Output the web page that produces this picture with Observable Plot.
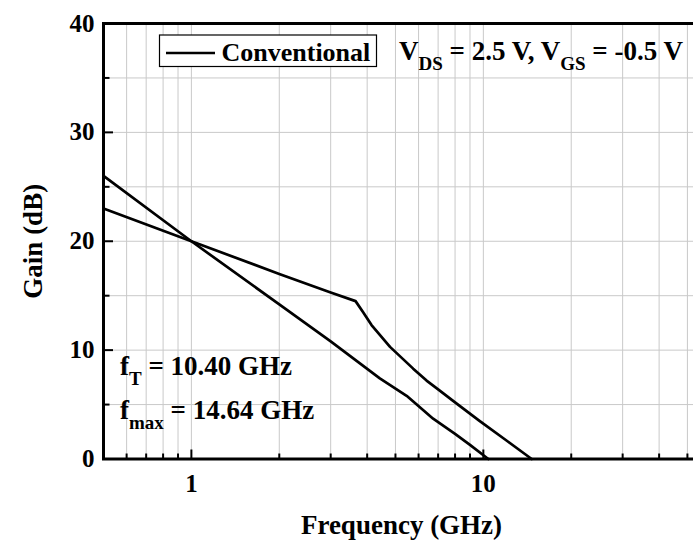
<!DOCTYPE html>
<html><head><meta charset="utf-8">
<script src="https://cdn.jsdelivr.net/npm/d3@7"></script>
<script src="https://cdn.jsdelivr.net/npm/@observablehq/plot@0.6"></script>
<style>html,body{margin:0;padding:0;overflow:hidden;background:#fff}#chart{width:693px;height:540px;overflow:hidden}</style>
</head><body><div id="chart"></div>
<script>
// Curve A (steeper, crosses 0 dB near fT)
const freqA = [0.5, 1, 2, 3, 4.42, 5.46, 6.73, 8, 9, 10.4];
const gainA = [26.0, 20.0, 14.2, 10.8, 7.4, 5.8, 3.7, 2.3, 1.3, 0];
// Curve B (kinked, crosses 0 dB near fmax)
const freqB = [0.5, 1, 2, 3, 3.65, 3.87, 4.14, 4.42, 4.79, 5.75, 6.39, 7, 8, 9.7, 12, 14.64];
const gainB = [23.0, 20.0, 17.0, 15.3, 14.5, 13.5, 12.3, 11.4, 10.3, 8.3, 7.2, 6.4, 5.2, 3.5, 1.7, 0];
const xMajor = [1, 10];
const xMinor = [0.6, 0.7, 0.8, 0.9, 2, 3, 4, 5, 6, 7, 8, 9, 20, 30, 40, 50];
const yMajor = [0, 10, 20, 30, 40];
const yMinor = [5, 15, 25, 35];
const xTitle = "Frequency (GHz)";
const yTitle = "Gain (dB)";
const legendLabel = "Conventional";

const dataA = freqA.map((f, i) => ({f, g: gainA[i]}));
const dataB = freqB.map((f, i) => ({f, g: gainB[i]}));

const W = 720, H = 540, mL = 103, mR = 21, mT = 23, mB = 81.5;
const plotW = W - mL - mR, plotH = H - mT - mB;
const FONT = "'Liberation Serif', 'Times New Roman', serif";

const plot = Plot.plot({
  width: W, height: H,
  marginLeft: mL, marginRight: mR, marginTop: mT, marginBottom: mB,
  style: {fontFamily: FONT, fontSize: "25px", fontWeight: "bold", color: "black", background: "white", maxWidth: "none"},
  x: {type: "log", domain: [0.5, 55]},
  y: {domain: [0, 40]},
  marks: [
    Plot.gridX(xMajor.concat(xMinor), {stroke: "#c9c9c9", strokeOpacity: 1, strokeWidth: 1}),
    Plot.gridY(yMinor.concat([10, 20, 30]), {stroke: "#c9c9c9", strokeOpacity: 1, strokeWidth: 1}),
    Plot.line(dataA, {x: "f", y: "g", stroke: "black", strokeWidth: 2.7}),
    Plot.line(dataB, {x: "f", y: "g", stroke: "black", strokeWidth: 2.7}),
    Plot.ruleX(xMajor, {x: d => d, insetTop: plotH - 9, stroke: "black", strokeWidth: 2}),
    Plot.ruleX(xMinor, {x: d => d, insetTop: plotH - 5, stroke: "black", strokeWidth: 2}),
    Plot.ruleY(yMajor, {y: d => d, insetRight: plotW - 10, stroke: "black", strokeWidth: 2}),
    Plot.ruleY(yMinor, {y: d => d, insetRight: plotW - 6.5, stroke: "black", strokeWidth: 2}),
    Plot.frame({stroke: "black", strokeWidth: 3}),
    Plot.axisX({ticks: xMajor, tickSize: 0, tickPadding: 15, tickFormat: d => String(d), fontSize: 25, label: null}),
    Plot.axisY({ticks: yMajor, tickSize: 0, tickPadding: 9, tickFormat: d => String(d), fontSize: 25, label: null}),
    Plot.text([xTitle], {text: d => d, frameAnchor: "bottom", textAnchor: "middle", lineAnchor: "bottom", dy: 75, dx: 0, fontSize: 27}),
    Plot.text([yTitle], {text: d => d, frameAnchor: "left", textAnchor: "middle", lineAnchor: "bottom", rotate: -90, dx: -62, fontSize: 27})
  ]
});
plot.style.maxWidth = "none";
plot.style.width = W + "px";
plot.style.height = H + "px";

const svg = d3.select(plot);
// legend box
svg.append("rect").attr("x", 159.5).attr("y", 35).attr("width", 217).attr("height", 31.5)
  .attr("fill", "white").attr("stroke", "black").attr("stroke-width", 1.2);
svg.append("line").attr("x1", 166).attr("x2", 215).attr("y1", 53).attr("y2", 53)
  .attr("stroke", "black").attr("stroke-width", 2.7);
svg.append("text").attr("x", 221.5).attr("y", 60.5).attr("font-size", 26).attr("text-anchor", "start")
  .attr("font-family", FONT).attr("font-weight", "bold").text(legendLabel);

function rich(x, y, parts, main, sub, shift) {
  const t = svg.append("text").attr("x", x).attr("y", y).attr("text-anchor", "start")
    .attr("font-family", FONT).attr("font-weight", "bold").attr("font-size", main);
  let down = false;
  parts.forEach(([s, isSub]) => {
    const ts = t.append("tspan").text(s).attr("font-size", isSub ? sub : main);
    if (isSub && !down) { ts.attr("dy", shift); down = true; }
    else if (!isSub && down) { ts.attr("dy", -shift); down = false; }
  });
}
rich(399, 60, [["V", false], ["DS", true], [" = 2.5 V, V", false], ["GS", true], [" = -0.5 V", false]], 27, 19, 10);
rich(120, 375, [["f", false], ["T", true], [" = 10.40 GHz", false]], 27, 19, 10);
rich(120, 418.5, [["f", false], ["max", true], [" = 14.64 GHz", false]], 27, 19, 10.5);

document.getElementById("chart").appendChild(plot);
</script></body></html>
